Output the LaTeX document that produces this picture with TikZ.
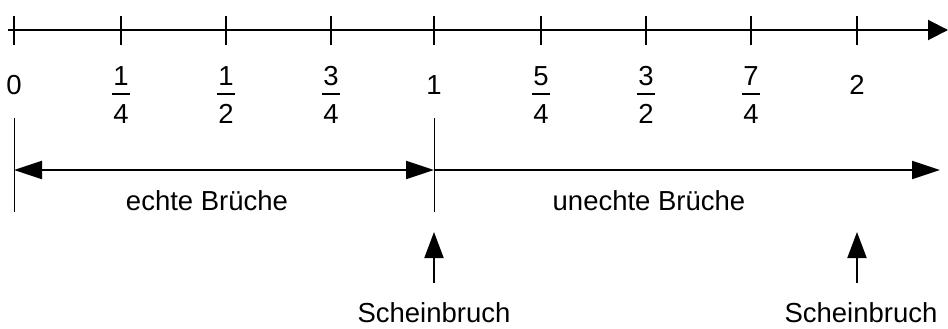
\documentclass[tikz,border=0pt]{standalone}
\usepackage{fontspec}
\setmainfont{Liberation Sans}
\usetikzlibrary{arrows.meta}
\begin{document}
\begin{tikzpicture}[x=1pt,y=-1pt,
  lbl/.style={inner sep=0pt,anchor=base,font=\fontsize{27.5}{33}\selectfont},
  axis/.style={line width=2pt},
  tick/.style={line width=2pt},
  bar/.style={line width=2pt},
  thin/.style={line width=1pt},
  dbl/.style={line width=2pt,{Triangle[length=28pt,width=18pt]}-{Triangle[length=28pt,width=18pt]}},
  rarr/.style={line width=2pt,-{Triangle[length=28pt,width=18pt]}},
  uparr/.style={line width=2pt,-{Triangle[length=26pt,width=19pt]}}]
\useasboundingbox (0,0) rectangle (948,329);
% axis
\coordinate (a0) at (8,30);
\coordinate (a1) at (948,30);
\draw[axis,-{Triangle[length=20pt,width=20pt]}] (a0) -- (a1);
\foreach \i/\x in {0/14,1/121,2/226,3/331,4/434,5/541,6/646,7/751,8/857}{
  \draw[tick] (\x,16) -- (\x,45);
}
% integer labels
\node[lbl] (n0) at (14,95) {0};
\node[lbl] (n1) at (434,95) {1};
\node[lbl] (n2) at (857,95) {2};
% fractions
\foreach \nm/\x/\a/\b in {q1/121/1/4,q2/226/1/2,q3/331/3/4,q5/541/5/4,q6/646/3/2,q7/751/7/4}{
  \node[lbl] (\nm n) at (\x,85) {\a};
  \node[lbl] (\nm d) at (\x,123) {\b};
  \draw[bar] (\x-9,94) -- (\x+9,94);
}
% vertical boundary lines
\coordinate (v0t) at (14,118); \coordinate (v0b) at (14,212);
\coordinate (v1t) at (434,118); \coordinate (v1b) at (434,212);
\draw[thin] (v0t) -- (v0b);
\draw[thin] (v1t) -- (v1b);
% range arrows
\coordinate (r0) at (14,170); \coordinate (r1) at (434,170); \coordinate (r2) at (940,170);
\draw[dbl] (r0) -- (r1);
\draw[rarr] (r1) -- (r2);
\node[lbl] (echt) at (207,210) {echte Brüche};
\node[lbl] (unecht) at (649,210) {unechte Brüche};
% Scheinbruch arrows
\coordinate (s1b) at (434,283); \coordinate (s1t) at (434,232);
\coordinate (s2b) at (857,283); \coordinate (s2t) at (857,232);
\draw[uparr] (s1b) -- (s1t);
\draw[uparr] (s2b) -- (s2t);
\node[lbl] (sb1) at (434,322) {Scheinbruch};
\node[lbl] (sb2) at (861,322) {Scheinbruch};
\end{tikzpicture}
\end{document}
